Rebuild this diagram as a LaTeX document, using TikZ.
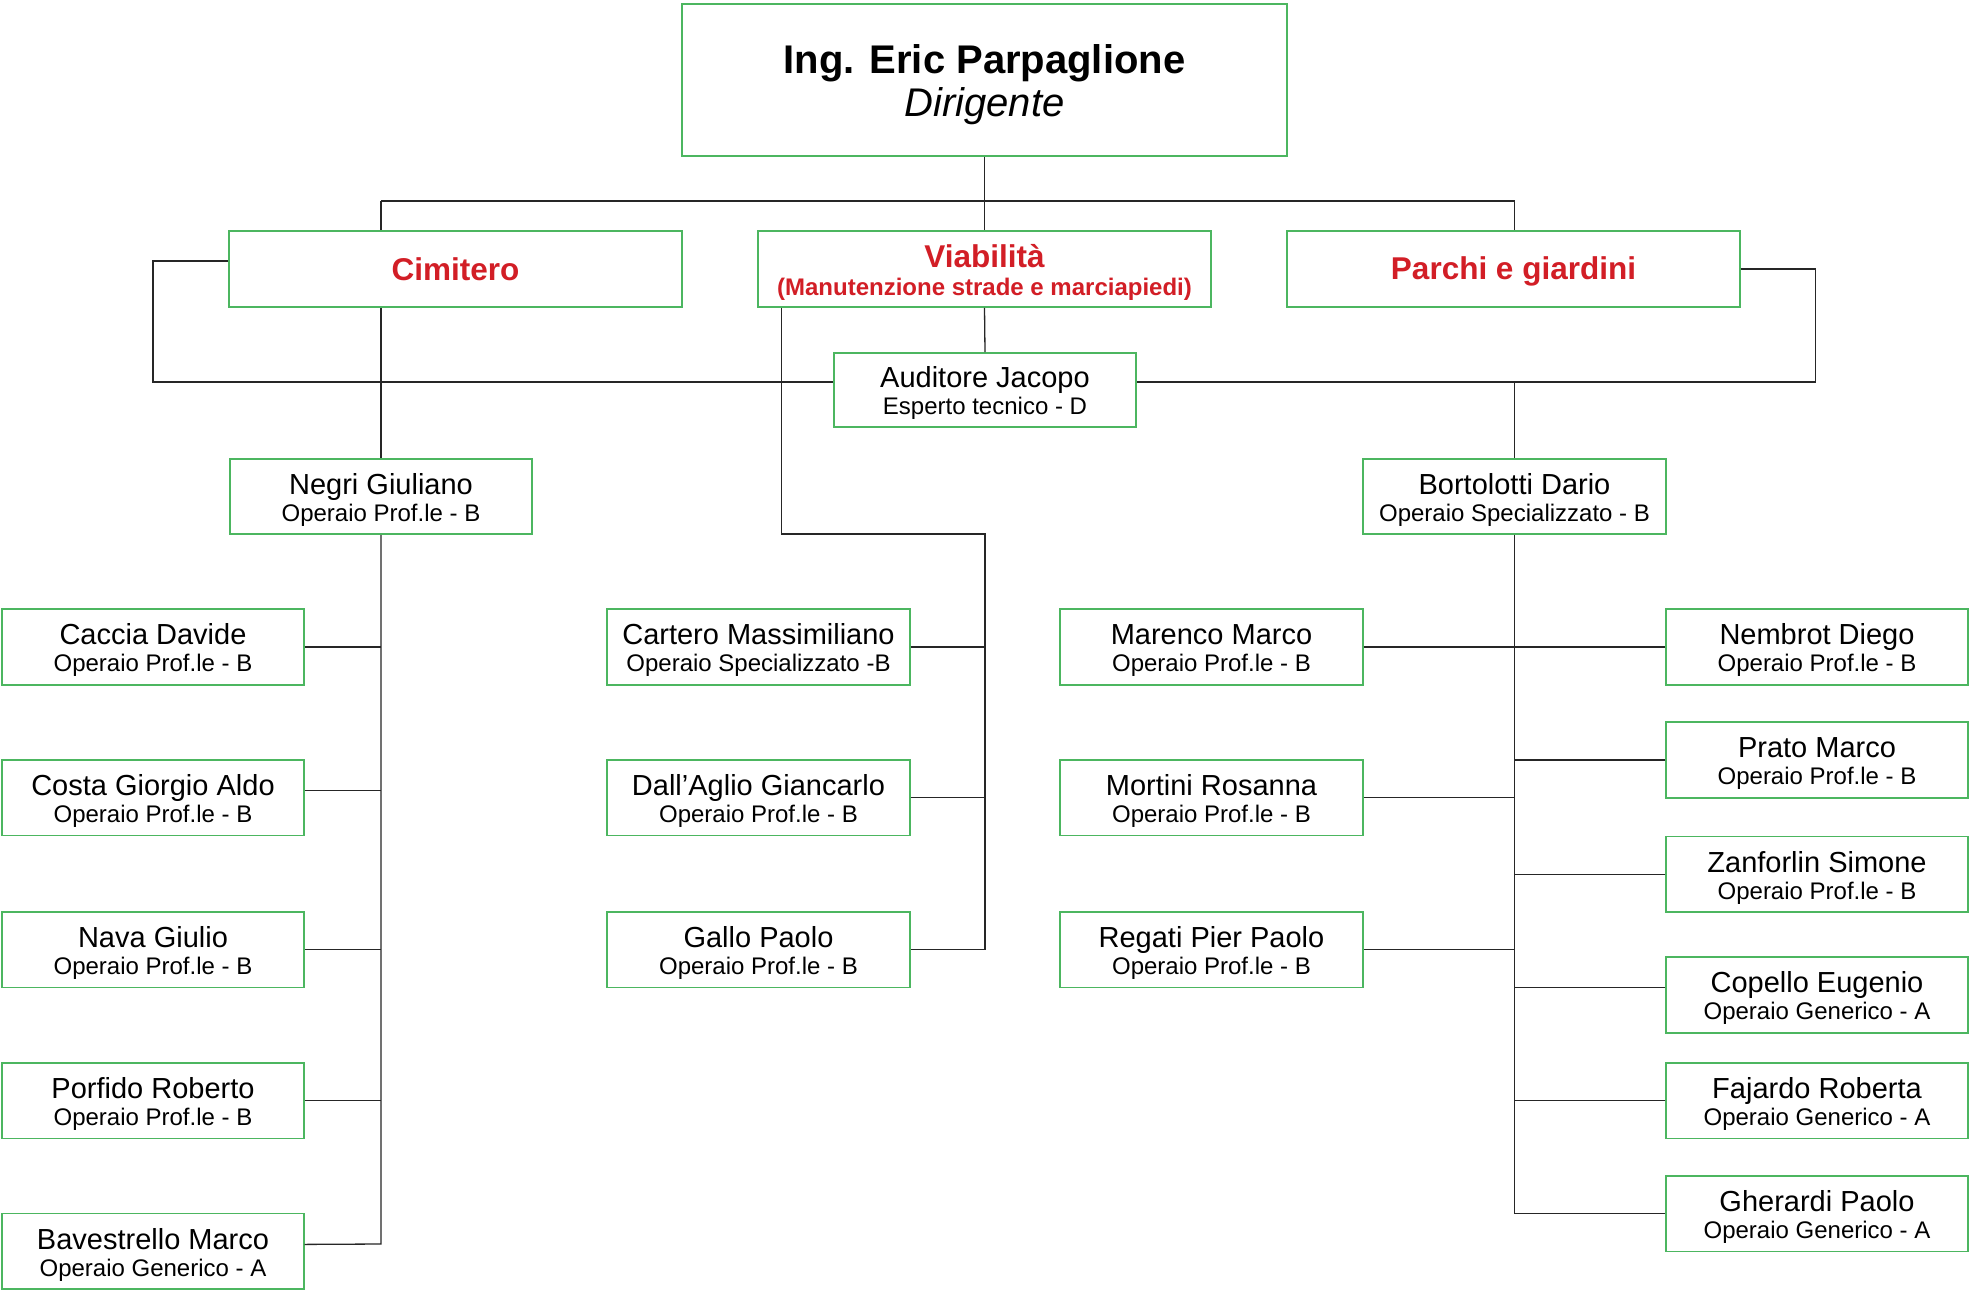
\documentclass[tikz,border=0pt]{standalone}
\usepackage{fontspec}
\setmainfont{Liberation Sans}
\definecolor{boxgreen}{RGB}{76,182,96}
\definecolor{deptred}{RGB}{210,30,38}
\newcommand\lowerby[2]{\raisebox{#1}[\height][\depth]{#2}}
\newcommand\twolines[5]{\lowerby{#5}{\begin{tabular}{@{}c@{}}{#1#2}\\#3#4\end{tabular}}}
\newcommand\persn[2]{\twolines{\fontsize{29}{30}\selectfont}{#1}{}{#2}{-5pt}}
\begin{document}
\begin{tikzpicture}[x=1pt,y=-1pt,
 box/.style={draw=boxgreen, line width=1.6pt, fill=white, inner sep=0pt, minimum height=75.5pt},
 pbox/.style={box, minimum width=301.5pt, font=\fontsize{24}{27}\selectfont},
 dbox/.style={box, minimum width=453pt, minimum height=76pt, text=deptred, font=\bfseries\fontsize{31.5}{36}\selectfont},
 conn/.style={draw=black!85, line width=1.3pt}]
\useasboundingbox[fill=white] (0,0) rectangle (1970,1290);

% top
\node[box, minimum width=605pt, minimum height=152pt, font=\fontsize{40}{43}\selectfont] (dir) at (984.5,80) {\twolines{\bfseries}{Ing. Eric Parpaglione}{\itshape}{Dirigente}{-6.5pt}};
% departments
\node[dbox] (cim) at (455.5,269) {Cimitero};
\node[dbox, font=\bfseries\fontsize{24}{28}\selectfont] (via) at (984.5,269) {\twolines{\fontsize{31.5}{32}\selectfont}{Viabilità}{}{(Manutenzione strade e marciapiedi)}{-5pt}};
\node[dbox] (par) at (1513.5,269) {\lowerby{-2.5pt}{Parchi e giardini}};
\node[pbox, minimum width=302pt, minimum height=74pt] (aud) at (985,390) {\persn{Auditore Jacopo}{Esperto tecnico - D}};
% heads
\node[pbox, minimum width=302pt] (neg) at (381,496.5) {\persn{Negri Giuliano}{Operaio Prof.le - B}};
\node[pbox, minimum width=303pt] (bor) at (1514.5,496.5) {\persn{Bortolotti Dario}{Operaio Specializzato - B}};
% left column
\node[pbox] (cac) at (153,647) {\persn{Caccia Davide}{Operaio Prof.le - B}};
\node[pbox] (cos) at (153,797.8) {\persn{Costa Giorgio Aldo}{Operaio Prof.le - B}};
\node[pbox] (nav) at (153,949.7) {\persn{Nava Giulio}{Operaio Prof.le - B}};
\node[pbox] (por) at (153,1100.6) {\persn{Porfido Roberto}{Operaio Prof.le - B}};
\node[pbox] (bav) at (153,1251.4) {\persn{Bavestrello Marco}{Operaio Generico - A}};
% middle column
\node[pbox, minimum width=303pt] (car) at (758.5,647) {\persn{Cartero Massimiliano}{Operaio Specializzato -B}};
\node[pbox, minimum width=303pt] (dal) at (758.5,797.8) {\persn{Dall’Aglio Giancarlo}{Operaio Prof.le - B}};
\node[pbox, minimum width=303pt] (gal) at (758.5,949.7) {\persn{Gallo Paolo}{Operaio Prof.le - B}};
% right-left column
\node[pbox, minimum width=303pt] (mar) at (1211.5,647) {\persn{Marenco Marco}{Operaio Prof.le - B}};
\node[pbox, minimum width=303pt] (mor) at (1211.5,797.8) {\persn{Mortini Rosanna}{Operaio Prof.le - B}};
\node[pbox, minimum width=303pt] (reg) at (1211.5,949.7) {\persn{Regati Pier Paolo}{Operaio Prof.le - B}};
% far right column
\node[pbox] (nem) at (1817,647) {\persn{Nembrot Diego}{Operaio Prof.le - B}};
\node[pbox] (pra) at (1817,760) {\persn{Prato Marco}{Operaio Prof.le - B}};
\node[pbox] (zan) at (1817,874.4) {\persn{Zanforlin Simone}{Operaio Prof.le - B}};
\node[pbox] (cop) at (1817,995) {\persn{Copello Eugenio}{Operaio Generico - A}};
\node[pbox] (faj) at (1817,1100.6) {\persn{Fajardo Roberta}{Operaio Generico - A}};
\node[pbox] (ghe) at (1817,1213.7) {\persn{Gherardi Paolo}{Operaio Generico - A}};

% connectors
\coordinate (barL) at (381,201);
\coordinate (barR) at (1514.5,201);
\coordinate (loopL) at (153,382);
\coordinate (loopR) at (1815.5,382);
\coordinate (vjoin) at (985,534);
\coordinate (nend) at (381,1244);

\draw[conn] (dir.south) -- (via.north);
\draw[conn] (barL) -- (barR);
\draw[conn] (barL) -- (barL |- cim.north);
\draw[conn] (barR) -- (barR |- par.north);
\draw[conn] (via.south) -- (aud.north);
\draw[conn] ([yshift=8pt]cim.west) -| (loopL) -- (aud.west |- loopL);
\draw[conn] (par.east) -| (loopR) -- (aud.east |- loopR);
\draw[conn] (barL |- cim.south) -- (neg.north);
\draw[conn] (bor.north |- loopR) -- (bor.north);

% Viabilita
\draw[conn] ([xshift=-203pt]via.south) |- (vjoin) -- (vjoin |- gal.east) -- (gal.east);
\draw[conn] (car.east) -- (car.east -| vjoin);
\draw[conn] (dal.east) -- (dal.east -| vjoin);

% Negri
\draw[conn] (neg.south) -- (nend) -- ([yshift=7pt]bav.east);
\draw[conn] (cac.east) -- (cac.east -| nend);
\draw[conn] ([yshift=7.5pt]cos.east) -- ([yshift=7.5pt]cos.east -| nend);
\draw[conn] (nav.east) -- (nav.east -| nend);
\draw[conn] (por.east) -- (por.east -| nend);

% Bortolotti
\draw[conn] (bor.south) -- (bor.south |- ghe.west) -- (ghe.west);
\draw[conn] (mar.east) -- (nem.west);
\draw[conn] (mor.east) -- (mor.east -| bor.south);
\draw[conn] (reg.east) -- (reg.east -| bor.south);
\draw[conn] (pra.west) -- (pra.west -| bor.south);
\draw[conn] (zan.west) -- (zan.west -| bor.south);
\draw[conn] ([yshift=7.5pt]cop.west) -- ([yshift=7.5pt]cop.west -| bor.south);
\draw[conn] (faj.west) -- (faj.west -| bor.south);
\end{tikzpicture}
\end{document}
